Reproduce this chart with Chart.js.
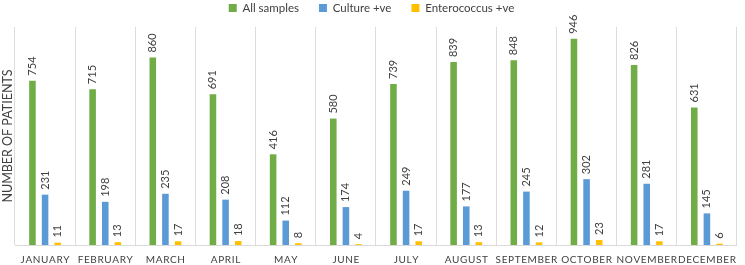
<!DOCTYPE html>
<html>
<head>
<meta charset="utf-8">
<script src="https://cdn.jsdelivr.net/npm/chart.js@4/dist/chart.umd.min.js"></script>
<style>
html,body{margin:0;padding:0;background:#fff;}
#wrap{width:745px;height:265px;position:relative;}
</style>
</head>
<body>
<div id="wrap"><canvas id="c" width="745" height="265"></canvas></div>
<script>
const months = ["JANUARY","FEBRUARY","MARCH","APRIL","MAY","JUNE","JULY","AUGUST","SEPTEMBER","OCTOBER","NOVEMBER","DECEMBER"];
const allSamples = [754,715,860,691,416,580,739,839,848,946,826,631];
const culturePos = [231,198,235,208,112,174,249,177,245,302,281,145];
const enteroPos = [11,13,17,18,8,4,17,13,12,23,17,6];
const seriesNames = ["All samples","Culture +ve","Enterococcus +ve"];
const yTitle = "NUMBER OF PATIENTS";

const textColor = "#404040";
const fontFam = "Lato, 'Open Sans', sans-serif";

const valueLabels = {
  id: 'valueLabels',
  afterDatasetsDraw(chart) {
    const ctx = chart.ctx;
    ctx.save();
    ctx.font = "11px " + fontFam;
    ctx.fillStyle = textColor;
    ctx.textAlign = 'left';
    ctx.textBaseline = 'middle';
    chart.data.datasets.forEach((ds, di) => {
      const meta = chart.getDatasetMeta(di);
      meta.data.forEach((el, i) => {
        ctx.save();
        ctx.translate(el.x, el.y - 5);
        ctx.rotate(-Math.PI / 2);
        ctx.fillText(String(ds.data[i]), 0, 0);
        ctx.restore();
      });
    });
    ctx.restore();
  }
};

new Chart(document.getElementById('c'), {
  type: 'bar',
  data: {
    labels: months,
    datasets: [
      {label: seriesNames[0], data: allSamples, backgroundColor: '#70AD47'},
      {label: seriesNames[1], data: culturePos, backgroundColor: '#5B9BD5'},
      {label: seriesNames[2], data: enteroPos, backgroundColor: '#FFC000'}
    ]
  },
  options: {
    responsive: false,
    animation: false,
    devicePixelRatio: 1,
    categoryPercentage: 0.63,
    barPercentage: 0.52,
    layout: {padding: {left: 0, right: 2, top: -17.75, bottom: 0}},
    plugins: {
      legend: {
        position: 'top',
        weight: 3000,
        labels: {
          boxWidth: 8, boxHeight: 8, padding: 20,
          color: textColor,
          font: {family: fontFam, size: 11.5}
        }
      },
      title: {
        display: true,
        text: '',
        position: 'top',
        weight: 500,
        font: {size: 1, lineHeight: 1},
        padding: {top: 0, bottom: 2.25}
      },
      tooltip: {enabled: false}
    },
    scales: {
      x: {
        grid: {display: true, offset: true, color: '#dcdcdc', drawTicks: false},
        border: {display: true, color: '#d9d9d9'},
        afterFit: function(scale) { scale.height = 20; },
        ticks: {
          color: textColor,
          font: {family: fontFam, size: 10},
          padding: 9,
          maxRotation: 0,
          autoSkip: false,
          callback: function(v, i) { return months[i].split('').join('\u200A'); }
        }
      },
      y: {
        min: 0, max: 1000,
        grid: {display: false},
        border: {display: false},
        ticks: {display: false},
        afterFit: function(scale) { scale.width = 15; },
        title: {
          display: true, text: yTitle, color: textColor,
          font: {family: fontFam, size: 12.5}, padding: {top: 0, bottom: 0}
        }
      }
    }
  },
  plugins: [valueLabels]
});
</script>
</body>
</html>
